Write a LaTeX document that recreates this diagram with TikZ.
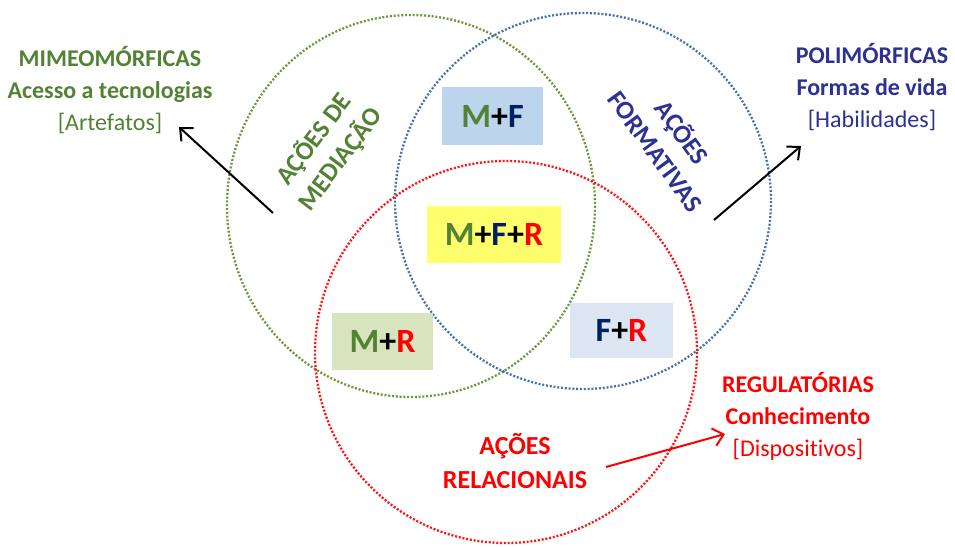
\documentclass[tikz,border=0pt]{standalone}
\usepackage{fontspec}
\setmainfont{Carlito}[RawFeature=-liga]
\usetikzlibrary{arrows.meta}
\definecolor{gtext}{RGB}{84,130,53}
\definecolor{btext}{RGB}{46,49,146}
\definecolor{navy}{RGB}{0,32,96}
\definecolor{gcirc}{RGB}{110,150,60}
\definecolor{bcirc}{RGB}{70,115,175}
\definecolor{rcirc}{RGB}{255,20,20}
\definecolor{mffill}{RGB}{188,212,236}
\definecolor{mfrfill}{RGB}{255,255,110}
\definecolor{mrfill}{RGB}{215,228,189}
\definecolor{frfill}{RGB}{220,230,242}
\tikzset{
  dotline/.style={line width=2.3pt, dash pattern=on 2pt off 1.8pt},
  combo/.style={inner sep=0pt, font=\fontsize{34}{38}\selectfont\bfseries},
  outer/.style={align=center, inner sep=0pt, font=\fontsize{24}{32}\selectfont},
  action/.style={align=center, inner sep=0pt, font=\fontsize{26}{33}\selectfont\bfseries},
  arr/.style={line width=2pt, -{Straight Barb[length=10pt,width=18pt,line width=2pt]}}
}
\begin{document}
\begin{tikzpicture}[x=1pt,y=-1pt]
\useasboundingbox (0,0) rectangle (955,546);
\fill[white] (0,0) rectangle (955,546);
% circles
\draw[dotline, gcirc] (411,206) ellipse [x radius=184, y radius=191];
\draw[dotline, bcirc] (583,201) circle [radius=188];
\draw[dotline, rcirc] (506,352) circle [radius=191];
% combination boxes
\node[combo, fill=mffill, minimum width=101pt, minimum height=58pt] (mf) at (492.5,116)
  {\textcolor{gtext}{M}+\textcolor{navy}{F}};
\node[combo, fill=mfrfill, minimum width=134pt, minimum height=57pt] (mfr) at (494,234.5)
  {\textcolor{gtext}{M}+\textcolor{navy}{F}+\textcolor{red}{R}};
\node[combo, fill=mrfill, minimum width=101pt, minimum height=57pt] (mr) at (382.5,341.5)
  {\textcolor{gtext}{M}+\textcolor{red}{R}};
\node[combo, fill=frfill, minimum width=103pt, minimum height=55pt] (fr) at (621.5,330.5)
  {\textcolor{navy}{F}+\textcolor{red}{R}};
% action labels
\node[action, text=gtext, rotate=53] (med) at (327,149) {AÇÕES DE\\MEDIAÇÃO};
\node[action, text=btext, rotate=-54] (form) at (670,141) {AÇÕES\\FORMATIVAS};
\node[action, text=red] (rel) at (515,461) {AÇÕES\\RELACIONAIS};
% outer blocks
\node[outer, text=gtext] (mime) at (110,90)
  {\textbf{MIMEOMÓRFICAS}\\\textbf{Acesso a tecnologias}\\{[}Artefatos{]}};
\node[outer, text=btext] (poli) at (872,87)
  {\textbf{POLIMÓRFICAS}\\\textbf{Formas de vida}\\{[}Habilidades{]}};
\node[outer, text=red] (reg) at (798,416)
  {\textbf{REGULATÓRIAS}\\\textbf{Conhecimento}\\{[}Dispositivos{]}};
% arrows
\coordinate (a1s) at (273,213);
\coordinate (a1e) at (179,127);
\coordinate (a2s) at (714,220);
\coordinate (a2e) at (801,146);
\coordinate (a3s) at (606,467);
\coordinate (a3e) at (725,434);
\draw[arr, black] (a1s) -- (a1e);
\draw[arr, black] (a2s) -- (a2e);
\draw[arr, red] (a3s) -- (a3e);
\end{tikzpicture}
\end{document}
